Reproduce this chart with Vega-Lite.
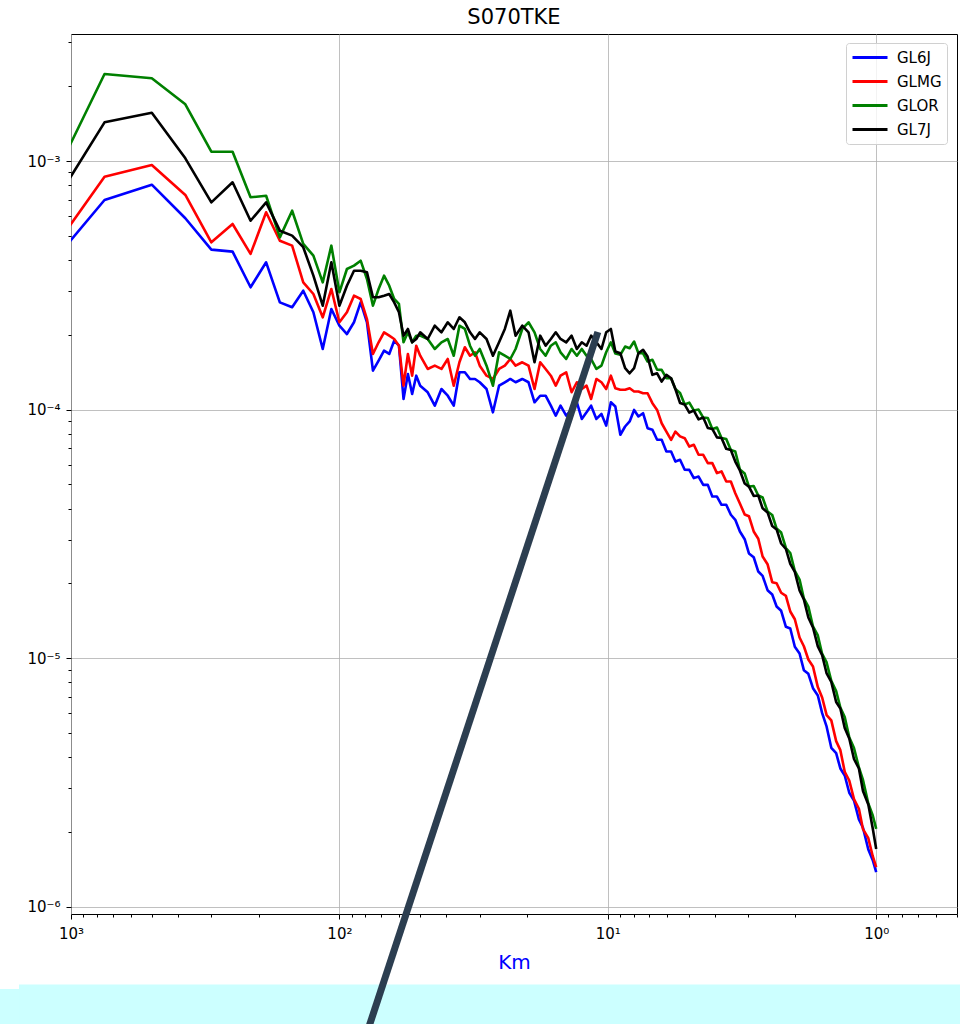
{
"$schema":"https://vega.github.io/schema/vega-lite/v6.json",
"width":886,"height":880,
"autosize":{"type":"none"},
"padding":{"left":71,"top":34,"right":3,"bottom":110},
"background":"white",
"config":{"font":"DejaVu Sans","view":{"stroke":"black","strokeWidth":1}},
"title":{"text":"S070TKE","fontSize":21,"fontWeight":"normal","color":"black","offset":9,"dy":20,"baseline":"alphabetic","frame":"group"},
"datasets":{
"spec":[
{"km":1500,"GL6J":2.856e-4,"GLMG":3.01e-4,"GLOR":4.81e-4,"GL7J":4.29e-4},
{"km":750,"GL6J":6.97e-4,"GLMG":8.65e-4,"GLOR":2.239e-3,"GL7J":1.431e-3},
{"km":500,"GL6J":8.03e-4,"GLMG":9.64e-4,"GLOR":2.151e-3,"GL7J":1.564e-3},
{"km":375,"GL6J":5.885e-4,"GLMG":7.30e-4,"GLOR":1.691e-3,"GL7J":1.025e-3},
{"km":300,"GL6J":4.40e-4,"GLMG":4.71e-4,"GLOR":1.090e-3,"GL7J":6.82e-4},
{"km":250,"GL6J":4.32e-4,"GLMG":5.58e-4,"GLOR":1.090e-3,"GL7J":8.21e-4},
{"km":214.29,"GL6J":3.105e-4,"GLMG":4.23e-4,"GLOR":7.145e-4,"GL7J":5.75e-4},
{"km":187.5,"GL6J":3.913e-4,"GLMG":6.22e-4,"GLOR":7.25e-4,"GL7J":6.82e-4},
{"km":166.67,"GL6J":2.70e-4,"GLMG":4.78e-4,"GLOR":4.93e-4,"GL7J":5.245e-4},
{"km":150,"GL6J":2.58e-4,"GLMG":4.565e-4,"GLOR":6.31e-4,"GL7J":5.01e-4},
{"km":136.36,"GL6J":3.008e-4,"GLMG":3.25e-4,"GLOR":4.64e-4,"GL7J":4.50e-4},
{"km":125,"GL6J":2.463e-4,"GLMG":2.917e-4,"GLOR":4.16e-4,"GL7J":3.457e-4},
{"km":115.38,"GL6J":1.753e-4,"GLMG":2.351e-4,"GLOR":3.25e-4,"GL7J":2.618e-4},
{"km":107.14,"GL6J":2.539e-4,"GLMG":3.056e-4,"GLOR":4.565e-4,"GL7J":3.913e-4},
{"km":100,"GL6J":2.175e-4,"GLMG":2.245e-4,"GLOR":2.964e-4,"GL7J":2.618e-4},
{"km":93.75,"GL6J":2.014e-4,"GLMG":2.463e-4,"GLOR":3.678e-4,"GL7J":3.15e-4},
{"km":88.24,"GL6J":2.245e-4,"GLMG":2.872e-4,"GLOR":3.793e-4,"GL7J":3.62e-4},
{"km":83.33,"GL6J":2.70e-4,"GLMG":2.786e-4,"GLOR":3.972e-4,"GL7J":3.62e-4},
{"km":78.95,"GL6J":2.245e-4,"GLMG":2.314e-4,"GLOR":3.353e-4,"GL7J":3.567e-4},
{"km":75,"GL6J":1.434e-4,"GLMG":1.674e-4,"GLOR":2.618e-4,"GL7J":2.83e-4},
{"km":71.43,"GL6J":1.573e-4,"GLMG":1.865e-4,"GLOR":3.056e-4,"GL7J":2.83e-4},
{"km":68.18,"GL6J":1.726e-4,"GLMG":2.046e-4,"GLOR":3.457e-4,"GL7J":2.872e-4},
{"km":65.22,"GL6J":1.674e-4,"GLMG":1.983e-4,"GLOR":3.15e-4,"GL7J":2.917e-4},
{"km":62.5,"GL6J":1.893e-4,"GLMG":1.923e-4,"GLOR":2.786e-4,"GL7J":2.70e-4},
{"km":60,"GL6J":1.807e-4,"GLMG":1.807e-4,"GLOR":2.66e-4,"GL7J":2.463e-4},
{"km":57.69,"GL6J":1.103e-4,"GLMG":1.248e-4,"GLOR":1.865e-4,"GL7J":1.983e-4},
{"km":55.56,"GL6J":1.391e-4,"GLMG":1.674e-4,"GLOR":2.046e-4,"GL7J":2.11e-4},
{"km":53.57,"GL6J":1.155e-4,"GLMG":1.369e-4,"GLOR":1.865e-4,"GL7J":1.865e-4},
{"km":51.72,"GL6J":1.369e-4,"GLMG":1.807e-4,"GLOR":1.983e-4,"GL7J":1.923e-4},
{"km":50,"GL6J":1.248e-4,"GLMG":1.647e-4,"GLOR":1.983e-4,"GL7J":2.046e-4},
{"km":46.88,"GL6J":1.174e-4,"GLMG":1.457e-4,"GLOR":1.923e-4,"GL7J":1.923e-4},
{"km":44.12,"GL6J":1.037e-4,"GLMG":1.502e-4,"GLOR":1.753e-4,"GL7J":2.175e-4},
{"km":41.67,"GL6J":1.21e-4,"GLMG":1.457e-4,"GLOR":1.865e-4,"GL7J":2.046e-4},
{"km":39.47,"GL6J":1.137e-4,"GLMG":1.598e-4,"GLOR":1.923e-4,"GL7J":2.245e-4},
{"km":37.5,"GL6J":1.037e-4,"GLMG":1.248e-4,"GLOR":1.647e-4,"GL7J":2.11e-4},
{"km":35.71,"GL6J":1.413e-4,"GLMG":1.55e-4,"GLOR":2.175e-4,"GL7J":2.351e-4},
{"km":34.09,"GL6J":1.413e-4,"GLMG":1.781e-4,"GLOR":2.11e-4,"GL7J":2.245e-4},
{"km":32.61,"GL6J":1.328e-4,"GLMG":1.647e-4,"GLOR":1.807e-4,"GL7J":2.046e-4},
{"km":31.25,"GL6J":1.328e-4,"GLMG":1.70e-4,"GLOR":1.647e-4,"GL7J":1.923e-4},
{"km":30,"GL6J":1.288e-4,"GLMG":1.502e-4,"GLOR":1.753e-4,"GL7J":2.046e-4},
{"km":28.3,"GL6J":1.21e-4,"GLMG":1.369e-4,"GLOR":1.502e-4,"GL7J":1.923e-4},
{"km":26.79,"GL6J":9.75e-5,"GLMG":1.328e-4,"GLOR":1.248e-4,"GL7J":1.647e-4},
{"km":25.42,"GL6J":1.248e-4,"GLMG":1.457e-4,"GLOR":1.70e-4,"GL7J":1.865e-4},
{"km":24.19,"GL6J":1.288e-4,"GLMG":1.502e-4,"GLOR":1.647e-4,"GL7J":2.11e-4},
{"km":23.08,"GL6J":1.328e-4,"GLMG":1.598e-4,"GLOR":1.598e-4,"GL7J":2.50e-4},
{"km":22.06,"GL6J":1.288e-4,"GLMG":1.502e-4,"GLOR":1.753e-4,"GL7J":1.983e-4},
{"km":20.83,"GL6J":1.328e-4,"GLMG":1.55e-4,"GLOR":2.11e-4,"GL7J":2.175e-4},
{"km":19.74,"GL6J":1.288e-4,"GLMG":1.502e-4,"GLOR":2.245e-4,"GL7J":2.046e-4},
{"km":18.75,"GL6J":1.07e-4,"GLMG":1.21e-4,"GLOR":2.046e-4,"GL7J":1.55e-4},
{"km":17.86,"GL6J":1.137e-4,"GLMG":1.55e-4,"GLOR":1.753e-4,"GL7J":1.983e-4},
{"km":17.05,"GL6J":1.137e-4,"GLMG":1.457e-4,"GLOR":1.647e-4,"GL7J":1.807e-4},
{"km":16.3,"GL6J":1.037e-4,"GLMG":1.369e-4,"GLOR":1.807e-4,"GL7J":1.923e-4},
{"km":15.63,"GL6J":9.45e-5,"GLMG":1.248e-4,"GLOR":1.865e-4,"GL7J":2.046e-4},
{"km":15,"GL6J":1.037e-4,"GLMG":1.369e-4,"GLOR":1.70e-4,"GL7J":1.923e-4},
{"km":14.29,"GL6J":9.45e-5,"GLMG":1.413e-4,"GLOR":1.598e-4,"GL7J":1.865e-4},
{"km":13.64,"GL6J":1.006e-4,"GLMG":1.174e-4,"GLOR":1.753e-4,"GL7J":1.983e-4},
{"km":13.04,"GL6J":1.07e-4,"GLMG":1.288e-4,"GLOR":1.647e-4,"GL7J":1.753e-4},
{"km":12.5,"GL6J":9.17e-5,"GLMG":1.21e-4,"GLOR":1.753e-4,"GL7J":1.865e-4},
{"km":12,"GL6J":9.75e-5,"GLMG":1.248e-4,"GLOR":1.647e-4,"GL7J":1.807e-4},
{"km":11.54,"GL6J":1.037e-4,"GLMG":1.103e-4,"GLOR":1.598e-4,"GL7J":1.983e-4},
{"km":11.03,"GL6J":9.17e-5,"GLMG":1.328e-4,"GLOR":1.457e-4,"GL7J":1.865e-4},
{"km":10.56,"GL6J":9.60e-5,"GLMG":1.288e-4,"GLOR":1.502e-4,"GL7J":1.753e-4},
{"km":10.14,"GL6J":8.62e-5,"GLMG":1.21e-4,"GLOR":1.70e-4,"GL7J":2.046e-4},
{"km":9.74,"GL6J":1.07e-4,"GLMG":1.369e-4,"GLOR":1.865e-4,"GL7J":2.11e-4},
{"km":9.375,"GL6J":1.029e-4,"GLMG":1.219e-4,"GLOR":1.681e-4,"GL7J":1.713e-4},
{"km":8.98,"GL6J":7.92e-5,"GLMG":1.201e-4,"GLOR":1.661e-4,"GL7J":1.685e-4},
{"km":8.62,"GL6J":8.55e-5,"GLMG":1.201e-4,"GLOR":1.793e-4,"GL7J":1.467e-4},
{"km":8.29,"GL6J":8.96e-5,"GLMG":1.218e-4,"GLOR":1.765e-4,"GL7J":1.40e-4},
{"km":7.98,"GL6J":9.97e-5,"GLMG":1.182e-4,"GLOR":1.878e-4,"GL7J":1.467e-4},
{"km":7.69,"GL6J":9.38e-5,"GLMG":1.182e-4,"GLOR":1.686e-4,"GL7J":1.685e-4},
{"km":7.39,"GL6J":9.67e-5,"GLMG":1.164e-4,"GLOR":1.685e-4,"GL7J":1.74e-4},
{"km":7.11,"GL6J":8.42e-5,"GLMG":1.163e-4,"GLOR":1.561e-4,"GL7J":1.635e-4},
{"km":6.82,"GL6J":8.30e-5,"GLMG":1.061e-4,"GLOR":1.586e-4,"GL7J":1.38e-4},
{"km":6.55,"GL6J":7.56e-5,"GLMG":9.97e-5,"GLOR":1.446e-4,"GL7J":1.40e-4},
{"km":6.3,"GL6J":7.56e-5,"GLMG":8.81e-5,"GLOR":1.445e-4,"GL7J":1.297e-4},
{"km":6.05,"GL6J":6.78e-5,"GLMG":8.16e-5,"GLOR":1.337e-4,"GL7J":1.38e-4},
{"km":5.81,"GL6J":6.78e-5,"GLMG":7.56e-5,"GLOR":1.337e-4,"GL7J":1.337e-4},
{"km":5.6,"GL6J":6.18e-5,"GLMG":8.16e-5,"GLOR":1.209e-4,"GL7J":1.21e-4},
{"km":5.38,"GL6J":6.28e-5,"GLMG":7.80e-5,"GLOR":1.165e-4,"GL7J":1.063e-4},
{"km":5.17,"GL6J":5.73e-5,"GLMG":7.67e-5,"GLOR":1.048e-4,"GL7J":1.048e-4},
{"km":4.97,"GL6J":5.72e-5,"GLMG":7.10e-5,"GLOR":1.067e-4,"GL7J":9.73e-5},
{"km":4.78,"GL6J":5.30e-5,"GLMG":7.22e-5,"GLOR":9.92e-5,"GL7J":9.91e-5},
{"km":4.59,"GL6J":5.38e-5,"GLMG":6.58e-5,"GLOR":1.0e-4,"GL7J":9.13e-5},
{"km":4.41,"GL6J":4.98e-5,"GLMG":6.58e-5,"GLOR":9.29e-5,"GL7J":9.29e-5},
{"km":4.24,"GL6J":4.98e-5,"GLMG":6.09e-5,"GLOR":9.25e-5,"GL7J":8.43e-5},
{"km":4.08,"GL6J":4.47e-5,"GLMG":6.09e-5,"GLOR":8.35e-5,"GL7J":8.36e-5},
{"km":3.92,"GL6J":4.47e-5,"GLMG":5.55e-5,"GLOR":8.47e-5,"GL7J":7.73e-5},
{"km":3.77,"GL6J":4.14e-5,"GLMG":5.64e-5,"GLOR":7.69e-5,"GL7J":7.68e-5},
{"km":3.62,"GL6J":4.14e-5,"GLMG":5.14e-5,"GLOR":7.61e-5,"GL7J":6.95e-5},
{"km":3.48,"GL6J":3.775e-5,"GLMG":5.14e-5,"GLOR":6.88e-5,"GL7J":6.87e-5},
{"km":3.35,"GL6J":3.603e-5,"GLMG":4.61e-5,"GLOR":6.78e-5,"GL7J":6.18e-5},
{"km":3.22,"GL6J":3.234e-5,"GLMG":4.19e-5,"GLOR":5.74e-5,"GL7J":5.69e-5},
{"km":3.09,"GL6J":3.01e-5,"GLMG":3.785e-5,"GLOR":5.53e-5,"GL7J":5.04e-5},
{"km":2.98,"GL6J":2.638e-5,"GLMG":3.724e-5,"GLOR":4.90e-5,"GL7J":4.90e-5},
{"km":2.86,"GL6J":2.547e-5,"GLMG":3.234e-5,"GLOR":4.926e-5,"GL7J":4.494e-5},
{"km":2.75,"GL6J":2.231e-5,"GLMG":3.021e-5,"GLOR":4.514e-5,"GL7J":4.511e-5},
{"km":2.65,"GL6J":2.144e-5,"GLMG":2.565e-5,"GLOR":4.43e-5,"GL7J":4.006e-5},
{"km":2.54,"GL6J":1.877e-5,"GLMG":2.388e-5,"GLOR":3.891e-5,"GL7J":3.857e-5},
{"km":2.44,"GL6J":1.804e-5,"GLMG":2.022e-5,"GLOR":3.766e-5,"GL7J":3.402e-5},
{"km":2.35,"GL6J":1.614e-5,"GLMG":2.002e-5,"GLOR":3.322e-5,"GL7J":3.294e-5},
{"km":2.26,"GL6J":1.551e-5,"GLMG":1.833e-5,"GLOR":3.202e-5,"GL7J":2.893e-5},
{"km":2.17,"GL6J":1.337e-5,"GLMG":1.782e-5,"GLOR":2.775e-5,"GL7J":2.749e-5},
{"km":2.09,"GL6J":1.316e-5,"GLMG":1.541e-5,"GLOR":2.649e-5,"GL7J":2.393e-5},
{"km":2.01,"GL6J":1.111e-5,"GLMG":1.434e-5,"GLOR":2.242e-5,"GL7J":2.222e-5},
{"km":1.93,"GL6J":1.044e-5,"GLMG":1.211e-5,"GLOR":2.072e-5,"GL7J":1.872e-5},
{"km":1.86,"GL6J":8.95e-6,"GLMG":1.117e-5,"GLOR":1.738e-5,"GL7J":1.723e-5},
{"km":1.79,"GL6J":8.65e-6,"GLMG":9.88e-6,"GLOR":1.613e-5,"GL7J":1.458e-5},
{"km":1.72,"GL6J":7.57e-6,"GLMG":9.26e-6,"GLOR":1.341e-5,"GL7J":1.328e-5},
{"km":1.65,"GL6J":7.08e-6,"GLMG":7.65e-6,"GLOR":1.234e-5,"GL7J":1.115e-5},
{"km":1.59,"GL6J":6.01e-6,"GLMG":6.95e-6,"GLOR":1.04e-5,"GL7J":1.029e-5},
{"km":1.53,"GL6J":5.30e-6,"GLMG":5.90e-6,"GLOR":9.61e-6,"GL7J":8.68e-6},
{"km":1.47,"GL6J":4.36e-6,"GLMG":5.62e-6,"GLOR":8.10e-6,"GL7J":8.02e-6},
{"km":1.41,"GL6J":4.148e-6,"GLMG":4.636e-6,"GLOR":7.38e-6,"GL7J":6.66e-6},
{"km":1.36,"GL6J":3.60e-6,"GLMG":4.266e-6,"GLOR":6.33e-6,"GL7J":6.27e-6},
{"km":1.31,"GL6J":3.374e-6,"GLMG":3.491e-6,"GLOR":5.80e-6,"GL7J":5.24e-6},
{"km":1.26,"GL6J":2.874e-6,"GLMG":3.22e-6,"GLOR":4.80e-6,"GL7J":4.752e-6},
{"km":1.21,"GL6J":2.676e-6,"GLMG":2.709e-6,"GLOR":4.352e-6,"GL7J":3.93e-6},
{"km":1.16,"GL6J":2.244e-6,"GLMG":2.478e-6,"GLOR":3.633e-6,"GL7J":3.599e-6},
{"km":1.12,"GL6J":2.078e-6,"GLMG":2.052e-6,"GLOR":3.235e-6,"GL7J":2.923e-6},
{"km":1.07,"GL6J":1.70e-6,"GLMG":1.887e-6,"GLOR":2.604e-6,"GL7J":2.579e-6},
{"km":1.03,"GL6J":1.54e-6,"GLMG":1.597e-6,"GLOR":2.328e-6,"GL7J":2.064e-6},
{"km":1,"GL6J":1.377e-6,"GLMG":1.442e-6,"GLOR":2.056e-6,"GL7J":1.708e-6}
],
"arrow":[{"xa":78.3,"xb":10.89,"ya":3.195e-7,"yb":2.052e-4}],
"band":[{"xa":1562,"xb":0.468,"ya":4.87e-7,"yb":3.195e-7},{"xa":1919,"xb":1562,"ya":4.67e-7,"yb":3.195e-7}]
},
"resolve":{"axis":{"x":"independent","y":"independent"}},
"layer":[
{"data":{"name":"band"},
 "mark":{"type":"rect","color":"#ccffff","clip":false},
 "encoding":{
  "x":{"field":"xa","type":"quantitative","scale":{"type":"log","domain":[0.5,1000],"reverse":true,"nice":false},"axis":null},
  "x2":{"field":"xb"},
  "y":{"field":"ya","type":"quantitative","scale":{"type":"log","domain":[9.35e-7,3.243e-3],"nice":false},"axis":null},
  "y2":{"field":"yb"}}},
{"data":{"name":"spec"},
 "transform":[{"fold":["GL6J","GLMG","GLOR","GL7J"],"as":["model","value"]}],
 "mark":{"type":"line","clip":true,"strokeWidth":2.6,"strokeJoin":"round"},
 "encoding":{
  "x":{"field":"km","type":"quantitative","scale":{"type":"log","domain":[0.5,1000],"reverse":true,"nice":false},
   "axis":{"orient":"bottom","values":[1000,100,10,1],"labelExpr":"'10' + ['⁻⁶','⁻⁵','⁻⁴','⁻³','⁻²','⁻¹','⁰','¹','²','³'][round(log(datum.value)/LN10)+6]","grid":true,"gridColor":"#b0b0b0","gridWidth":0.8,"domain":false,"ticks":true,"tickSize":5,"tickColor":"black","labelFontSize":15,"labelColor":"black","labelPadding":7,"labelFlush":false,"labelOverlap":false,"title":"Km","titleColor":"blue","titleFontSize":20,"titleFontWeight":"normal","titlePadding":11}},
  "y":{"field":"value","type":"quantitative","scale":{"type":"log","domain":[9.35e-7,3.243e-3],"nice":false},
   "axis":{"orient":"left","values":[1e-6,1e-5,1e-4,1e-3],"labelExpr":"'10' + ['⁻⁶','⁻⁵','⁻⁴','⁻³','⁻²','⁻¹','⁰','¹','²','³'][round(log(datum.value)/LN10)+6]","grid":true,"gridColor":"#b0b0b0","gridWidth":0.8,"domain":false,"ticks":true,"tickSize":5,"tickColor":"black","labelFontSize":15,"labelColor":"black","labelPadding":6,"labelFlush":false,"labelOverlap":false,"title":null}},
  "color":{"field":"model","type":"nominal","scale":{"domain":["GL6J","GLMG","GLOR","GL7J"],"range":["#0000ff","#ff0000","#008000","#000000"]},
   "legend":{"orient":"none","legendX":775,"legendY":9,"title":null,"symbolType":"stroke","symbolStrokeWidth":3,"symbolSize":1225,"clipHeight":19,"rowPadding":5,"labelFontSize":15,"labelColor":"black","labelOffset":8,"padding":5,"strokeColor":"#d0d0d0","fillColor":"rgba(255,255,255,0.8)","cornerRadius":3}}}},
{"data":{"name":"arrow"},
 "mark":{"type":"rule","color":"#2c3e50","strokeWidth":7,"clip":false},
 "encoding":{
  "x":{"field":"xa","type":"quantitative","scale":{"type":"log","domain":[0.5,1000],"reverse":true,"nice":false},
   "axis":{"orient":"bottom","values":[900,800,700,600,500,400,300,200,90,80,70,60,50,40,30,20,9,8,7,6,5,4,3,2,0.9,0.8,0.7,0.6,0.5],"labels":false,"grid":false,"domain":false,"ticks":true,"tickSize":3,"tickColor":"black","title":null}},
  "x2":{"field":"xb"},
  "y":{"field":"ya","type":"quantitative","scale":{"type":"log","domain":[9.35e-7,3.243e-3],"nice":false},
   "axis":{"orient":"left","values":[2e-6,3e-6,4e-6,5e-6,6e-6,7e-6,8e-6,9e-6,2e-5,3e-5,4e-5,5e-5,6e-5,7e-5,8e-5,9e-5,2e-4,3e-4,4e-4,5e-4,6e-4,7e-4,8e-4,9e-4,2e-3,3e-3],"labels":false,"grid":false,"domain":false,"ticks":true,"tickSize":3,"tickColor":"black","title":null}},
  "y2":{"field":"yb"}}}
]
}
